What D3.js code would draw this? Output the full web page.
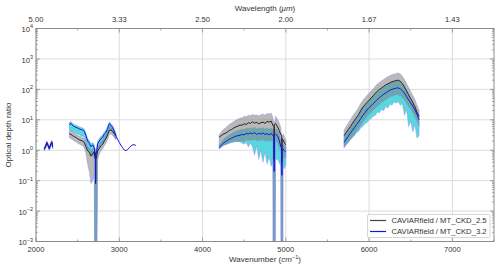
<!DOCTYPE html>
<html><head><meta charset="utf-8">
<script src="https://cdn.jsdelivr.net/npm/d3@7"></script>
<style>body{margin:0;background:#fff}svg{display:block}text{font-family:"Liberation Sans",Arial,sans-serif;fill:#333}</style>
</head><body><svg id="c" width="500" height="268"></svg>
<script>
// ---- data ----
const xTicks = [2000, 3000, 4000, 5000, 6000, 7000];
const xMinor = [2500, 3500, 4500, 5500, 6500, 7500];
const topTickLabels = ["5.00", "3.33", "2.50", "2.00", "1.67", "1.43"];
const yExponents = [-3, -2, -1, 0, 1, 2, 3, 4];
const seriesNames = ["CAVIARfield / MT_CKD_2.5", "CAVIARfield / MT_CKD_3.2"];

const wnA = [2100,2115,2130,2145,2160,2175,2190,2200];
const blackA = [1.08,1.32,1.75,1.42,1.12,1.46,1.85,1.28];
const grayHiA = [1.25,1.5,1.95,1.6,1.3,1.65,2.05,1.45];
const grayLoA = [0.95,1.15,1.55,1.25,0.98,1.28,1.65,1.12];
const blueA = [1.10,1.35,1.80,1.45,1.15,1.50,1.90,1.30];
const cyanHiA = [1.25,1.55,2.0,1.65,1.3,1.7,2.1,1.5];
const cyanLoA = [0.95,1.15,1.6,1.25,1.0,1.3,1.65,1.12];

const wnB = [2400,2420,2440,2460,2480,2500,2520,2540,2560,2580,2600,2620,2640,2660,2680,2700,2706,2714,2716,2718,2726,2740,2760,2780,2800,2820,2840,2860,2880,2900,2920,2940,2960];
const blackB = [3.5,3.3,3.0,2.8,2.6,2.4,2.2,2.1,2.0,1.8,1.3,0.95,0.85,0.65,0.75,0.9,0.6,0.5,0.08,0.5,0.6,0.95,1.15,1.4,1.55,2.0,2.4,3.2,4.5,4.6,4.2,3.6,3.0];
const grayHiB = [4.4,4.2,3.9,3.6,3.4,3.1,2.9,2.8,2.6,2.4,1.8,1.3,1.2,0.95,1.05,1.2,1.0,0.9,0.8,0.9,1.0,1.3,1.6,1.9,2.1,2.7,3.2,4.2,5.8,5.9,5.4,4.6,3.6];
const grayLoB = [2.6,2.4,2.2,2.0,1.9,1.7,1.6,1.5,1.4,1.2,0.8,0.35,0.2,0.08,0.1,0.15,1e-5,1e-5,1e-5,1e-5,1e-5,0.5,0.75,0.95,1.1,1.4,1.7,2.3,3.3,3.4,3.1,2.6,2.2];
const blueB = [7.0,7.6,6.4,6.0,5.6,5.4,5.0,4.8,4.6,4.2,3.0,2.0,1.7,1.3,1.5,1.2,0.9,0.8,0.1,0.8,0.8,1.6,2.0,2.4,2.6,3.4,3.8,5.2,7.4,6.6,5.6,4.2,2.9];
const cyanHiB = [8.2,8.8,7.6,7.0,6.6,6.3,5.9,5.6,5.4,5.0,3.6,2.4,2.1,1.6,1.8,1.5,1.2,1.1,1.0,1.0,1.1,1.9,2.4,2.9,3.1,4.0,4.5,6.1,8.4,7.6,6.4,4.9,3.3];
const cyanLoB = [4.6,4.4,4.0,3.8,3.6,3.4,3.2,3.0,2.9,2.6,1.7,1.1,0.9,0.6,0.7,0.6,1e-5,1e-5,1e-5,1e-5,1e-5,1.0,1.3,1.6,1.7,2.2,2.6,3.5,5.2,4.6,3.8,3.0,2.3];

const wnT = [2960,2980,3000,3020,3040,3060,3080,3100,3120,3140,3160,3180,3200];
const blueT = [2.9,2.3,1.8,1.45,1.2,1.02,0.97,1.05,1.2,1.38,1.5,1.52,1.42];

const wnC = [4200,4225,4250,4275,4300,4325,4350,4375,4400,4425,4450,4475,4500,4525,4550,4575,4600,4625,4650,4675,4700,4725,4750,4775,4800,4825,4845,4848,4858,4860,4862,4872,4876,4900,4920,4940,4943,4951,4953,4955,4963,4967,4985,5000];
const blackC = [2.7,3.0,3.4,3.6,4.0,4.5,4.8,5.4,5.8,6.2,6.7,6.6,7.4,7.0,8.0,7.6,8.6,7.8,8.2,7.4,8.0,8.4,7.6,8.8,8.4,9.0,6.5,6.5,6.0,0.5,7.0,7.5,7.5,6.0,4.5,3.2,3.2,3.0,0.4,2.4,2.2,2.2,1.7,1.5];
const grayHiC = [3.3,4.0,4.8,5.4,6.2,7.2,7.8,8.8,9.6,10.5,11.5,11.5,13,12.5,14,13.5,15,14,14.5,13.5,14.5,15.5,14,16,15.5,16.5,12,10,8,8,8,10,13,10.5,8,5.5,4,3,3,3,3,3.5,2.6,2.1];
const grayLoC = [1.15,1.3,1.45,1.55,1.65,1.75,1.85,1.9,1.95,1.95,1.95,1.98,1.92,2.16,2.04,2.22,2.1,2.28,1.98,2.16,2.04,2.22,1.98,2.1,1.92,2.16,1.8,1e-5,1e-5,1e-5,1e-5,1e-5,1.98,1.8,1.3,0.8,1e-5,1e-5,1e-5,1e-5,1e-5,0.66,0.57,0.54];
const blueC = [1.25,1.45,1.7,1.9,2.1,2.3,2.5,2.7,2.9,3.0,3.1,3.3,3.2,3.6,3.4,3.7,3.5,3.8,3.3,3.6,3.4,3.7,3.3,3.5,3.2,3.6,3.0,3.0,3.0,0.2,3.3,3.3,3.3,3.0,2.2,1.3,1.3,1.2,0.15,1.1,1.1,1.1,0.95,0.9];
const cyanHiC = [1.5,1.8,2.2,2.6,2.9,3.2,3.6,3.9,4.2,4.4,4.6,4.9,4.8,5.3,5.1,5.5,5.2,5.7,5.0,5.4,5.1,5.5,5.0,5.3,4.9,5.4,4.6,4,3.5,3.5,3.5,4,5.0,4.5,3.3,2.0,1.8,1.5,1.5,1.5,1.5,1.6,1.4,1.3];
const cyanLoC = [1.1,1.25,1.4,1.5,1.6,1.7,1.8,1.85,1.9,1.9,1.9,1.7,1.6,1.8,1.3,1.7,1.3,0.7,1.4,0.5,1.0,0.4,0.9,0.35,0.6,0.3,0.4,1e-5,1e-5,1e-5,1e-5,1e-5,0.5,0.5,0.4,0.3,1e-5,1e-5,1e-5,1e-5,1e-5,0.3,0.25,0.35];

const wnD = [5700,5725,5750,5775,5800,5825,5850,5875,5900,5925,5950,5975,6000,6025,6050,6075,6100,6125,6150,6175,6200,6225,6250,6275,6300,6325,6350,6375,6400,6425,6450,6475,6500,6525,6550,6575,6600];
const blackD = [3.0,3.8,4.8,6.0,7.6,9.6,12,15,20,26,31,37,44,52,62,75,88,100,112,125,140,152,165,178,185,195,200,185,155,120,88,66,50,37,27,18,13];
const grayHiD = [4.6,6.0,7.8,10,13,16,20,26,34,44,53,63,75,88,105,127,150,170,190,212,238,258,280,300,315,332,345,320,270,210,155,115,85,63,46,30,21];
const grayLoD = [1.25,1.55,1.85,2.25,2.75,3.4,4.2,5.2,6.6,8.4,10.2,12.6,15,17.4,20.4,24,28,32,37,41,46,51,56,60,63,66,67,62,54,45,35,27,22,17,12.6,9,6];
const blueD = [1.8,2.3,2.9,3.6,4.5,5.6,7.0,8.6,11,14,17,21,25,29,34,40,47,54,61,69,77,85,94,100,105,110,112,104,90,75,58,45,36,28,21,15,10];
const cyanHiD = [2.8,3.6,4.5,5.7,7.2,9.1,11.4,14,19,24.5,29,35,42,49,59,71,83,95,106,118,132,144,156,168,175,185,190,175,147,114,84,63,47,35,26,17,12.4];
const cyanLoD = [1.2,1.5,1.8,2.2,2.6,3.0,3.8,4.2,5.5,6.0,7.5,8.0,10,11,13,14,18,17,22,20,28,24,33,30,39,35,40,30,34,14,22,6,9,4,7,2.5,3];

const segments = [
  {wn: wnA, black: blackA, gHi: grayHiA, gLo: grayLoA, blue: blueA, cHi: cyanHiA, cLo: cyanLoA},
  {wn: wnB, black: blackB, gHi: grayHiB, gLo: grayLoB, blue: blueB, cHi: cyanHiB, cLo: cyanLoB},
  {wn: wnC, black: blackC, gHi: grayHiC, gLo: grayLoC, blue: blueC, cHi: cyanHiC, cLo: cyanLoC},
  {wn: wnD, black: blackD, gHi: grayHiD, gLo: grayLoD, blue: blueD, cHi: cyanHiD, cLo: cyanLoD}
];

// ---- layout ----
const L = 36, R = 494, T = 28.5, B = 241.5;
const svg = d3.select("#c");
const x = d3.scaleLinear().domain([2000, 7500]).range([L, R]);
const y = d3.scaleLog().domain([1e-3, 1e4]).range([B, T]);

svg.append("defs").append("clipPath").attr("id", "clip")
  .append("rect").attr("x", L).attr("y", T).attr("width", R - L).attr("height", B - T);

// grid
const grid = svg.append("g");
xTicks.forEach(v => grid.append("line").attr("x1", x(v)).attr("x2", x(v)).attr("y1", T).attr("y2", B)
  .attr("stroke", "#dcdcdc").attr("stroke-width", 1));
yExponents.forEach(e => grid.append("line").attr("x1", L).attr("x2", R).attr("y1", y(Math.pow(10, e))).attr("y2", y(Math.pow(10, e)))
  .attr("stroke", "#dcdcdc").attr("stroke-width", 1));

// data
const plot = svg.append("g").attr("clip-path", "url(#clip)");
const sy = v => y(Math.max(v, 1e-6));
segments.forEach(s => {
  const idx = d3.range(s.wn.length);
  const area = (lo, hi) => d3.area().x(i => x(s.wn[i])).y0(i => sy(lo[i])).y1(i => sy(hi[i]))(idx);
  plot.append("path").attr("d", area(s.cLo, s.cHi)).attr("fill", "#4fd6da").attr("fill-opacity", 0.95)
    .attr("stroke", "#8a8af0").attr("stroke-opacity", 0.55).attr("stroke-width", 0.8);
  plot.append("path").attr("d", area(s.gLo, s.gHi)).attr("fill", "#808080").attr("fill-opacity", 0.55)
    .attr("stroke", "#8a8af0").attr("stroke-opacity", 0.55).attr("stroke-width", 0.8);
});
segments.forEach(s => {
  const idx = d3.range(s.wn.length);
  const line = arr => d3.line().x(i => x(s.wn[i])).y(i => sy(arr[i]))(idx);
  plot.append("path").attr("d", line(s.black)).attr("fill", "none").attr("stroke", "#222").attr("stroke-width", 1);
});
segments.forEach(s => {
  const idx = d3.range(s.wn.length);
  const line = arr => d3.line().x(i => x(s.wn[i])).y(i => sy(arr[i]))(idx);
  plot.append("path").attr("d", line(s.blue)).attr("fill", "none").attr("stroke", "#1515e6").attr("stroke-width", 1);
});
plot.append("path").attr("d", d3.line().x((d, i) => x(wnT[i])).y((d) => sy(d))(blueT))
  .attr("fill", "none").attr("stroke", "#1515e6").attr("stroke-width", 1);

// frame
svg.append("rect").attr("x", L).attr("y", T).attr("width", R - L).attr("height", B - T)
  .attr("fill", "none").attr("stroke", "#8c8c8c").attr("stroke-width", 1);

// ticks
const tk = svg.append("g").attr("stroke", "#8c8c8c").attr("stroke-width", 0.8);
xTicks.forEach(v => {
  tk.append("line").attr("x1", x(v)).attr("x2", x(v)).attr("y1", B).attr("y2", B - 4);
  tk.append("line").attr("x1", x(v)).attr("x2", x(v)).attr("y1", T).attr("y2", T + 4);
});
xMinor.forEach(v => {
  tk.append("line").attr("x1", x(v)).attr("x2", x(v)).attr("y1", B).attr("y2", B - 2);
  tk.append("line").attr("x1", x(v)).attr("x2", x(v)).attr("y1", T).attr("y2", T + 2);
});
yExponents.forEach(e => {
  const p = Math.pow(10, e);
  tk.append("line").attr("x1", L).attr("x2", L + 4).attr("y1", y(p)).attr("y2", y(p));
  tk.append("line").attr("x1", R).attr("x2", R - 4).attr("y1", y(p)).attr("y2", y(p));
  if (e < 4) for (let k = 2; k < 10; k++) {
    const yy = y(k * p);
    tk.append("line").attr("x1", L).attr("x2", L + 2).attr("y1", yy).attr("y2", yy);
    tk.append("line").attr("x1", R).attr("x2", R - 2).attr("y1", yy).attr("y2", yy);
  }
});

// tick labels
const fs = 7.6;
xTicks.forEach((v, i) => {
  svg.append("text").attr("x", x(v)).attr("y", 252).attr("text-anchor", "middle").attr("font-size", fs).text(v);
  svg.append("text").attr("x", x(v)).attr("y", 22).attr("text-anchor", "middle").attr("font-size", fs).text(topTickLabels[i]);
});
yExponents.forEach(e => {
  const t = svg.append("text").attr("x", 33).attr("y", y(Math.pow(10, e)) + 3.6).attr("text-anchor", "end").attr("font-size", fs);
  t.append("tspan").text("10");
  t.append("tspan").attr("dy", -3.6).attr("font-size", 5.4).text(e < 0 ? "\u2212" + (-e) : String(e));
});

// axis titles
const xt = svg.append("text").attr("x", (L + R) / 2).attr("y", 262).attr("text-anchor", "middle").attr("font-size", 8);
xt.append("tspan").text("Wavenumber (");
xt.append("tspan").attr("font-style", "italic").text("cm");
xt.append("tspan").attr("dy", -3.2).attr("font-size", 5.6).text("\u22121");
xt.append("tspan").attr("dy", 3.2).text(")");
const tt = svg.append("text").attr("x", (L + R) / 2).attr("y", 10.5).attr("text-anchor", "middle").attr("font-size", 8);
tt.append("tspan").text("Wavelength (");
tt.append("tspan").attr("font-style", "italic").text("\u03bcm");
tt.append("tspan").text(")");
svg.append("text").attr("transform", `translate(11,${(T + B) / 2}) rotate(-90)`).attr("text-anchor", "middle")
  .attr("font-size", 8).text("Optical depth ratio");

// legend
const lg = svg.append("g");
lg.append("rect").attr("x", 367.5).attr("y", 214.5).attr("width", 122.5).attr("height", 23).attr("rx", 1.5)
  .attr("fill", "#fff").attr("fill-opacity", 0.9).attr("stroke", "#cccccc").attr("stroke-width", 0.8);
const lcols = ["#444", "#1515e6"];
seriesNames.forEach((n, i) => {
  const yy = 220.5 + i * 11;
  lg.append("line").attr("x1", 370).attr("x2", 386).attr("y1", yy).attr("y2", yy).attr("stroke", lcols[i]).attr("stroke-width", 1.2);
  lg.append("text").attr("x", 391.5).attr("y", yy + 2.8).attr("font-size", 7.7).text(n);
});
</script></body></html>
